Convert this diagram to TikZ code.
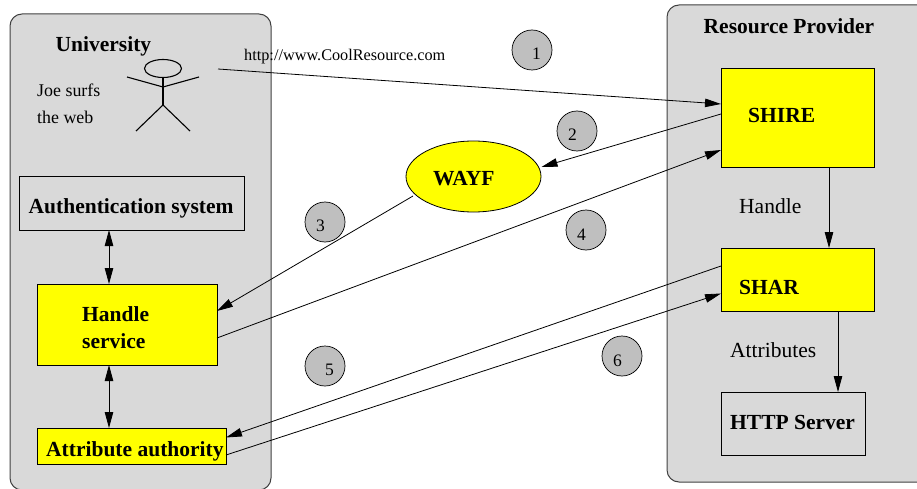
\documentclass[tikz,border=0pt]{standalone}
\usepackage{fontspec}
\setmainfont{Liberation Serif}
\usetikzlibrary{arrows.meta,shapes.geometric}
\definecolor{panelgray}{HTML}{D9D9D9}
\definecolor{circlegray}{HTML}{BFBFBF}
\definecolor{boxyellow}{HTML}{FFFF00}
\tikzset{
  panel/.style={draw=black!75,fill=panelgray,line width=1pt,rounded corners=12pt},
  graybox/.style={draw=black,fill=panelgray,line width=0.9pt,rectangle,inner sep=0pt,outer sep=0pt},
  yellowbox/.style={draw=black,fill=boxyellow,line width=0.9pt,rectangle,inner sep=0pt,outer sep=0pt},
  wayfshape/.style={draw=black,fill=boxyellow,line width=0.8pt,ellipse,inner sep=0pt,outer sep=0pt,minimum width=135pt,minimum height=71pt},
  stepcircle/.style={draw=black,fill=circlegray,line width=0.7pt,circle,inner sep=0pt,outer sep=0pt,minimum size=40pt},
  numlabel/.style={anchor=base west,inner sep=0pt,font=\fontsize{17.5}{20}\selectfont},
  boldlabel/.style={anchor=base west,inner sep=0pt,font=\fontsize{21.5}{25}\selectfont\bfseries},
  plainlabel/.style={anchor=base west,inner sep=0pt,font=\fontsize{21.5}{25}\selectfont},
  smalllabel/.style={anchor=base west,inner sep=0pt,font=\fontsize{17.9}{21}\selectfont},
  urllabel/.style={anchor=base west,inner sep=0pt,font=\fontsize{16.25}{19}\selectfont},
  conn/.style={draw=black,line width=0.8pt},
  tip/.style={conn,-{Triangle[length=16pt,width=8.5pt]}},
  bothtips/.style={conn,{Triangle[length=16pt,width=8.5pt]}-{Triangle[length=16pt,width=8.5pt]}},
  figure line/.style={draw=black,line width=1.1pt}
}
\begin{document}
\begin{tikzpicture}[x=1pt,y=-1pt]
\useasboundingbox (0,0) rectangle (917,489);
\clip (0,0) rectangle (917,489);
% panels
\draw[panel] (10,14) rectangle (271,490);
\draw[panel] (667,5) rectangle (960,482);
% boxes
\node[graybox,minimum width=225pt,minimum height=54pt] (auth) at (131.5,203) {};
\node[yellowbox,minimum width=180pt,minimum height=81pt] (hs) at (127,324.5) {};
\node[yellowbox,minimum width=189pt,minimum height=36pt] (aa) at (131.5,446) {};
\node[yellowbox,minimum width=153pt,minimum height=99pt] (shire) at (797.5,117.5) {};
\node[yellowbox,minimum width=153pt,minimum height=63pt] (shar) at (797.5,279.5) {};
\node[graybox,minimum width=144pt,minimum height=63pt] (http) at (793,423.5) {};
\node[wayfshape] (wayf) at (473.5,176.5) {};
% step circles
\node[stepcircle] (c1) at (532,50) {};
\node[stepcircle] (c2) at (577,131) {};
\node[stepcircle] (c3) at (325,222) {};
\node[stepcircle] (c4) at (586,230) {};
\node[stepcircle] (c5) at (325,366) {};
\node[stepcircle] (c6) at (622,356) {};
\node[numlabel] (n1) at (532,60) {1};
\node[numlabel] (n2) at (568,141) {2};
\node[numlabel] (n3) at (316,231) {3};
\node[numlabel] (n4) at (577,240) {4};
\node[numlabel] (n5) at (325,375) {5};
\node[numlabel] (n6) at (613,366) {6};
% stick figure
\node[draw=black,line width=1.1pt,ellipse,inner sep=0pt,minimum width=37pt,minimum height=18pt] (head) at (163,68.5) {};
\coordinate (neck) at (163,87);
\coordinate (hip) at (163,105);
\coordinate (handl) at (127,77);
\coordinate (handr) at (199,77);
\coordinate (footl) at (136,131);
\coordinate (footr) at (190,131);
\draw[figure line] (head.south) -- (hip);
\draw[figure line] (handl) -- (neck) -- (handr);
\draw[figure line] (footl) -- (hip) -- (footr);
% connectors
\coordinate (surf) at (218,69);
\draw[tip] (surf) -- ([shift={(0,36)}]shire.north west);
\draw[tip] ([shift={(0,46)}]shire.north west) -- ([shift={(68,-9.5)}]wayf.center);
\draw[tip] ([shift={(-60.5,19.5)}]wayf.center) -- ([shift={(0,27)}]hs.north east);
\draw[tip] ([shift={(0,54)}]hs.north east) -- ([shift={(0,82)}]shire.north west);
\draw[tip] ([shift={(0,18)}]shar.north west) -- ([shift={(0,9.5)}]aa.north east);
\draw[tip] ([shift={(0,27)}]aa.north east) -- ([shift={(0,45.5)}]shar.north west);
\draw[bothtips] ([shift={(90,0)}]auth.south west) -- ([shift={(72,0)}]hs.north west);
\draw[bothtips] ([shift={(72,0)}]hs.south west) -- ([shift={(72,0)}]aa.north west);
\draw[tip] ([shift={(108,0)}]shire.south west) -- ([shift={(108,0)}]shar.north west);
\draw[tip] ([shift={(117,0)}]shar.south west) -- ([shift={(117,0)}]http.north west);
% labels
\node[boldlabel] (tuni) at (55.5,51.5) {University};
\node[smalllabel] (tjoe) at (37,96.5) {Joe surfs};
\node[smalllabel] (tweb) at (37,123.5) {the web};
\node[urllabel] (turl) at (244,60.5) {http://www.CoolResource.com};
\node[boldlabel] (tauth) at (28.5,213) {Authentication system};
\node[boldlabel] (thand) at (82,321) {Handle};
\node[boldlabel] (tserv) at (82,348) {service};
\node[boldlabel] (taa) at (46,456) {Attribute authority};
\node[boldlabel] (trp) at (703.5,34) {Resource Provider};
\node[boldlabel] (tshire) at (748,123) {SHIRE};
\node[boldlabel] (tshar) at (739,294) {SHAR};
\node[boldlabel] (thttp) at (730,429) {HTTP Server};
\node[boldlabel] (twayf) at (433,185.5) {WAYF};
\node[plainlabel] (thandle) at (739,213) {Handle};
\node[plainlabel] (tattr) at (730,357) {Attributes};
\end{tikzpicture}
\end{document}
